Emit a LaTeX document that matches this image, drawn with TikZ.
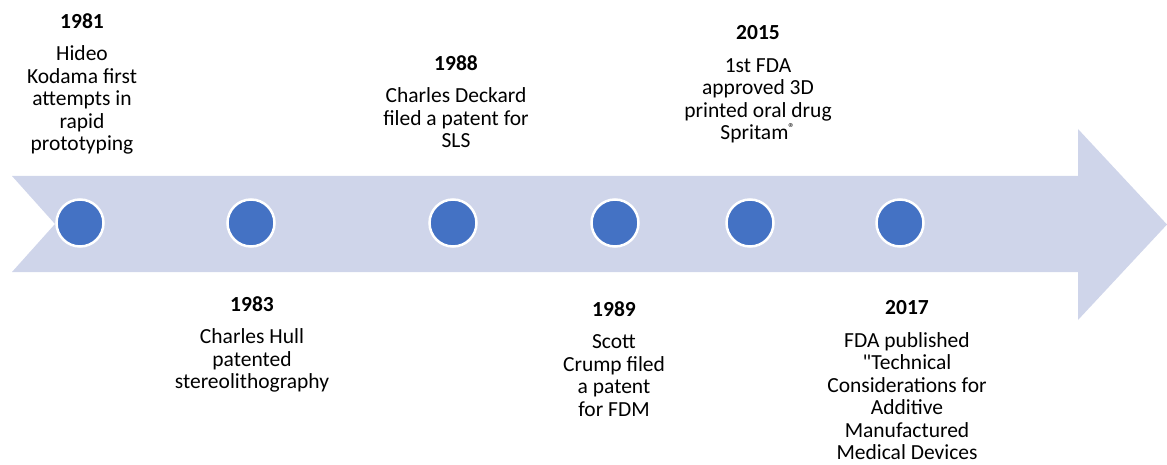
\documentclass[tikz,border=0pt]{standalone}
\usepackage{fontspec}
\setmainfont{Carlito}
\usepackage{tikz}

\definecolor{bandfill}{RGB}{207,213,234}
\definecolor{dotblue}{RGB}{68,114,196}

\begin{document}
\begin{tikzpicture}[x=1pt, y=-1pt, every node/.style={font=\fontsize{21.5}{22.5}\selectfont}]
	
		\useasboundingbox (0,0) rectangle (1167,465);
		
		% Draw the big arrow behind the timeline
		\fill[bandfill] (12,176) -- (1078,176) -- (1078,129) -- (1167,224.5) -- (1078,320) -- (1078,272) -- (12,272) -- (55,224) -- cycle;
		
		% Define styles for the dots and the event texts
		\tikzset{
			timeline dot/.style={circle, fill=dotblue, draw=white, line width=2.5pt, minimum size=47pt, inner sep=0pt},
			timeline text/.style={anchor=north, align=center, inner sep=0pt}
		};
		
		% Event 1 (above): 1981: Hideo Kodama
		\node[timeline dot] (d1981) at (80,223) {};
		\node[timeline text] (t1981) at (82,13.4) {\textbf{1981}\\[10pt]Hideo\\Kodama first\\attempts in\\rapid\\prototyping};
		
		% Event 2 (below): 1983: Charles Hull
		\node[timeline dot] (d1983) at (251,223) {};
		\node[timeline text] (t1983) at (252,296.4) {\textbf{1983}\\[10pt]Charles Hull\\patented\\stereolithography};
		
		% Event 3 (above): 1988: Charles Deckard
		\node[timeline dot] (d1988) at (453,223) {};
		\node[timeline text] (t1988) at (456,55.4) {\textbf{1988}\\[10pt]Charles Deckard\\filed a patent for\\SLS};
		
		% Event 4 (below): 1989: Scott Crump
		\node[timeline dot] (d1989) at (615,223) {};
		\node[timeline text] (t1989) at (614,301.4) {\textbf{1989}\\[10pt]Scott\\Crump filed\\a patent\\for FDM};
		
		% Event 5 (above): 2015: Spritam
		\node[timeline dot] (d2015) at (750,223) {};
		\node[timeline text] (t2015) at (758,25.4) {\textbf{2015}\\[10pt]1st FDA\\approved 3D\\printed oral drug\\Spritam\textsuperscript{\fontsize{13}{13}\selectfont\textregistered}};
		
		% Event 6 (below): 2017: FDA guidance
		\node[timeline dot] (d2017) at (900,223) {};
		\node[timeline text] (t2017) at (907,300.4) {\textbf{2017}\\[10pt]FDA published\\\textquotedbl Technical\\Considerations for\\Additive\\Manufactured\\Medical Devices};
	\end{tikzpicture}
\end{document}
